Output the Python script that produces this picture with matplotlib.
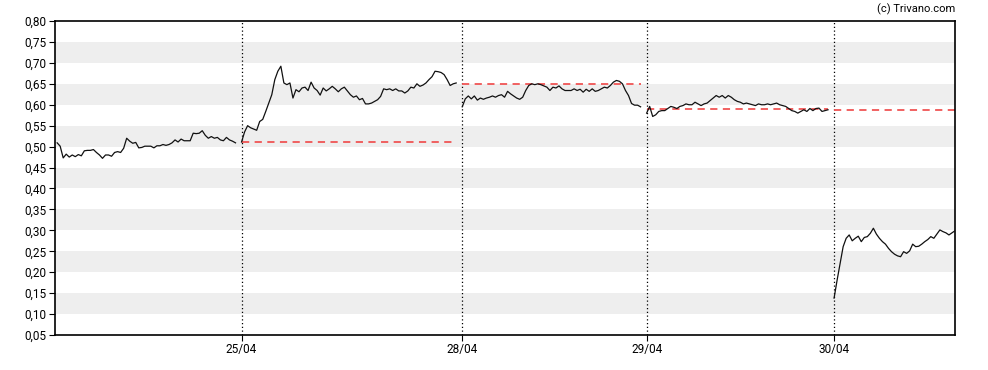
import numpy as np
import matplotlib.pyplot as plt

plt.rcParams['font.family'] = ['Roboto', 'DejaVu Sans']

# intraday prices, one list per trading day
day_labels = ['24/04', '25/04', '28/04', '29/04', '30/04']

d1 = [0.509, 0.501, 0.473, 0.482, 0.475, 0.480, 0.476, 0.481, 0.478, 0.490,
      0.491, 0.491, 0.493, 0.486, 0.480, 0.472, 0.480, 0.480, 0.477, 0.486,
      0.488, 0.486, 0.496, 0.520, 0.513, 0.508, 0.510, 0.497, 0.498, 0.501,
      0.501, 0.501, 0.497, 0.502, 0.502, 0.505, 0.503, 0.505, 0.509, 0.516,
      0.511, 0.518, 0.514, 0.514, 0.514, 0.532, 0.531, 0.532, 0.538, 0.527,
      0.520, 0.524, 0.520, 0.522, 0.516, 0.514, 0.522, 0.516, 0.513, 0.509]

d2 = [0.511, 0.535, 0.550, 0.545, 0.542, 0.539, 0.560, 0.565, 0.584, 0.604,
      0.624, 0.660, 0.680, 0.692, 0.652, 0.648, 0.652, 0.616, 0.636, 0.631,
      0.640, 0.642, 0.634, 0.654, 0.640, 0.634, 0.623, 0.640, 0.633, 0.638,
      0.644, 0.638, 0.631, 0.638, 0.642, 0.633, 0.624, 0.618, 0.621, 0.612,
      0.615, 0.602, 0.602, 0.604, 0.608, 0.612, 0.620, 0.638, 0.636, 0.638,
      0.634, 0.638, 0.633, 0.633, 0.628, 0.633, 0.642, 0.640, 0.650, 0.644,
      0.647, 0.652, 0.660, 0.667, 0.680, 0.679, 0.677, 0.672, 0.660, 0.646,
      0.650, 0.652]

d3 = [0.595, 0.614, 0.621, 0.614, 0.621, 0.611, 0.616, 0.613, 0.616, 0.618,
      0.621, 0.618, 0.622, 0.624, 0.618, 0.632, 0.626, 0.621, 0.616, 0.613,
      0.618, 0.634, 0.646, 0.650, 0.648, 0.650, 0.648, 0.645, 0.642, 0.634,
      0.642, 0.640, 0.645, 0.638, 0.634, 0.634, 0.634, 0.638, 0.634, 0.637,
      0.630, 0.637, 0.632, 0.638, 0.632, 0.634, 0.638, 0.642, 0.640, 0.646,
      0.654, 0.658, 0.656, 0.650, 0.634, 0.622, 0.603, 0.599, 0.599, 0.595]

d4 = [0.580, 0.596, 0.572, 0.576, 0.584, 0.586, 0.586, 0.591, 0.596, 0.594,
      0.591, 0.596, 0.598, 0.602, 0.600, 0.600, 0.606, 0.602, 0.598, 0.602,
      0.604, 0.610, 0.616, 0.622, 0.618, 0.622, 0.616, 0.622, 0.618, 0.612,
      0.608, 0.606, 0.602, 0.604, 0.602, 0.600, 0.598, 0.602, 0.600, 0.600,
      0.602, 0.600, 0.602, 0.604, 0.600, 0.598, 0.596, 0.591, 0.586, 0.584,
      0.580, 0.584, 0.588, 0.584, 0.591, 0.586, 0.591, 0.592, 0.584, 0.586,
      0.588]

d5 = [0.138, 0.181, 0.221, 0.261, 0.281, 0.289, 0.275, 0.281, 0.286, 0.273,
      0.283, 0.285, 0.293, 0.305, 0.291, 0.281, 0.273, 0.267, 0.257, 0.249,
      0.243, 0.239, 0.237, 0.249, 0.245, 0.251, 0.267, 0.261, 0.262, 0.267,
      0.273, 0.278, 0.285, 0.281, 0.291, 0.301, 0.297, 0.294, 0.289, 0.294,
      0.299]

days = [d1, d2, d3, d4, d5]

# previous close for days 2..5
prev_close = [0.510, 0.650, 0.591, 0.587]

y_ticks = np.arange(0.05, 0.801, 0.05)

fig = plt.figure(figsize=(9.88, 3.70), dpi=100)
ax = fig.add_axes([0.0557, 0.0946, 0.9109, 0.8486])

# alternating gray bands
for lo in y_ticks[1::2]:
    ax.axhspan(lo, lo + 0.05, color='#eeeeee', lw=0, zorder=0)

starts = []
x0 = 0
for d in days:
    starts.append(x0)
    x0 += len(d) + 1
x_end = starts[-1] + len(d5) - 1

for i, d in enumerate(days):
    x = starts[i] + np.arange(len(d))
    ax.plot(x, d, color='#111111', lw=0.9, zorder=3)

for i, pc in enumerate(prev_close):
    s = starts[i + 1]
    e = s + len(days[i + 1]) - 1
    ax.plot([s, e], [pc, pc], color='#f05555', lw=1.3, dashes=(4, 3), zorder=2)

for s in starts[1:]:
    ax.axvline(s, color='black', lw=0.9, ls=(0, (1, 2)), zorder=1)

ax.set_xlim(-0.7, x_end)
ax.set_ylim(0.05, 0.80)
ax.set_yticks(y_ticks)
ax.set_yticklabels([f'{v:.2f}'.replace('.', ',') for v in y_ticks])
ax.set_xticks(starts[1:])
ax.set_xticklabels(day_labels[1:])
ax.tick_params(labelsize=8.5, length=4, width=0.8, colors='black', pad=2)

for sp in ax.spines.values():
    sp.set_linewidth(1.2)

fig.text(0.9666, 0.975, '(c) Trivano.com', ha='right', va='center', fontsize=8)

fig.savefig('out.png', dpi=100)
